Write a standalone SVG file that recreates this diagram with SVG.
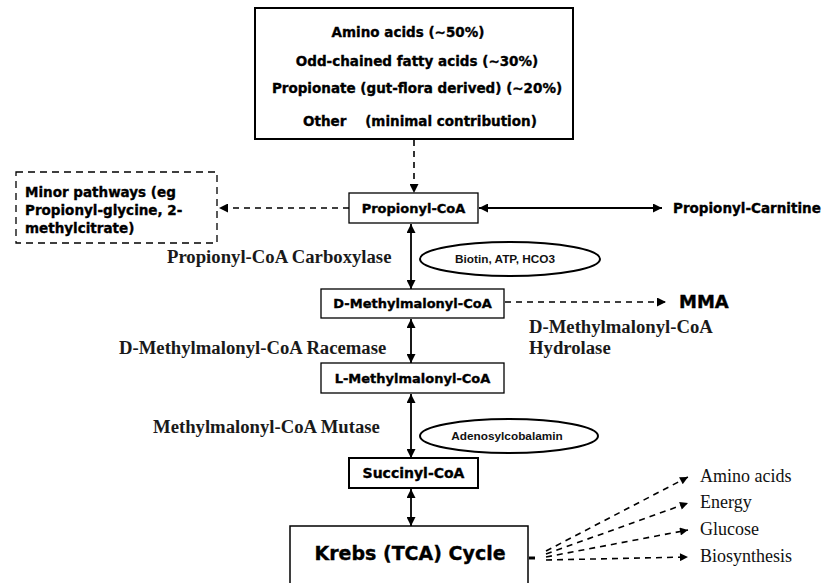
<svg xmlns="http://www.w3.org/2000/svg" width="824" height="583" viewBox="0 0 824 583">
<defs>
<marker id="ah" viewBox="0 0 10 10" refX="10" refY="5" markerWidth="10" markerHeight="9" markerUnits="userSpaceOnUse" orient="auto-start-reverse"><path d="M0,0 L10,5 L0,10 z" fill="#000"/></marker>
<marker id="ahs" viewBox="0 0 10 10" refX="10" refY="5" markerWidth="9" markerHeight="8" markerUnits="userSpaceOnUse" orient="auto"><path d="M0,0 L10,5 L0,10 z" fill="#000"/></marker>
</defs>
<style>
.box{fill:#fff;stroke:#000;stroke-width:1.3}
.lbl{font-family:"DejaVu Sans",sans-serif;font-weight:bold;font-size:13px;fill:#000;stroke:#000;stroke-width:0.35}
.top{font-size:13.5px}
.ser{font-family:"Liberation Serif","Times New Roman",serif;font-weight:bold;font-size:18.7px;fill:#1a1a1a}
.serr{font-family:"Liberation Serif","Times New Roman",serif;font-size:18px;fill:#111}
.small{font-family:"Liberation Sans",Arial,sans-serif;font-weight:bold;font-size:11.8px;fill:#111}
.sol{stroke:#000;stroke-width:1.8;fill:none}
.dsh{stroke:#000;stroke-width:1.6;fill:none;stroke-dasharray:6 5}
.ell{fill:#fff;stroke:#000;stroke-width:2}
</style>
<rect width="824" height="583" fill="#fff"/>

<g id="connectors">
<line class="dsh" x1="414" y1="140" x2="414" y2="193" marker-end="url(#ah)"/>
<line class="dsh" x1="349" y1="208" x2="219" y2="208" marker-end="url(#ah)"/>
<line class="sol" x1="479" y1="208" x2="662" y2="208" marker-start="url(#ah)" marker-end="url(#ah)"/>
<line class="sol" x1="411" y1="224" x2="411" y2="289" marker-start="url(#ah)" marker-end="url(#ah)"/>
<line class="dsh" x1="505" y1="302" x2="666" y2="302" marker-end="url(#ah)"/>
<line class="sol" x1="411" y1="319" x2="411" y2="363" marker-start="url(#ah)" marker-end="url(#ah)"/>
<line class="sol" x1="411" y1="394" x2="411" y2="458" marker-start="url(#ah)" marker-end="url(#ah)"/>
<line class="sol" x1="411" y1="489" x2="411" y2="526" marker-start="url(#ah)" marker-end="url(#ah)"/>
<line x1="529" y1="558" x2="535" y2="558" stroke="#000" stroke-width="3"/>
<line class="dsh" x1="546" y1="551" x2="688" y2="477" marker-end="url(#ahs)"/>
<line class="dsh" x1="546" y1="554" x2="688" y2="503" marker-end="url(#ahs)"/>
<line class="dsh" x1="546" y1="557" x2="688" y2="530" marker-end="url(#ahs)"/>
<line class="dsh" x1="546" y1="560" x2="688" y2="557" marker-end="url(#ahs)"/>
</g>

<g id="sources">
<rect x="255" y="8" width="318" height="131" fill="#fff" stroke="#000" stroke-width="2"/>
<text class="lbl top" x="408" y="37" text-anchor="middle">Amino acids (~50%)</text>
<text class="lbl top" x="417" y="66" text-anchor="middle">Odd-chained fatty acids (~30%)</text>
<text class="lbl top" x="417" y="93" text-anchor="middle">Propionate (gut-flora derived) (~20%)</text>
<text class="lbl top" x="303" y="126" xml:space="preserve">Other    (minimal contribution)</text>
</g>

<g id="minor">
<rect x="16" y="172" width="201" height="71" fill="#fff" stroke="#000" stroke-width="1.3" stroke-dasharray="7 5"/>
<text class="lbl top" x="25" y="197">Minor pathways (eg</text>
<text class="lbl top" x="25" y="215">Propionyl-glycine, 2-</text>
<text class="lbl top" x="25" y="233">methylcitrate)</text>
</g>

<g id="propionylcoa">
<rect class="box" x="349" y="193" width="129" height="30"/>
<text class="lbl" x="413.5" y="213" text-anchor="middle">Propionyl-CoA</text>
</g>

<g id="carnitine">
<text class="lbl" x="673" y="213" style="font-size:13.5px">Propionyl-Carnitine</text>
</g>

<g id="carboxylase">
<text class="ser" x="167" y="263">Propionyl-CoA Carboxylase</text>
</g>

<g id="biotin">
<ellipse class="ell" cx="510" cy="259" rx="90" ry="17"/>
<text class="small" x="505" y="263" text-anchor="middle">Biotin, ATP, HCO3</text>
</g>

<g id="dmmcoa">
<rect class="box" x="321" y="289" width="183" height="29"/>
<text class="lbl" x="412.5" y="308" text-anchor="middle">D-Methylmalonyl-CoA</text>
</g>

<g id="mma">
<text x="679" y="308" style="font-family:'DejaVu Sans',sans-serif;font-weight:bold;font-size:18px;stroke:#000;stroke-width:0.4">MMA</text>
</g>

<g id="hydrolase">
<text class="ser" x="529" y="333">D-Methylmalonyl-CoA</text>
<text class="ser" x="529" y="354">Hydrolase</text>
</g>

<g id="racemase">
<text class="ser" x="119" y="354">D-Methylmalonyl-CoA Racemase</text>
</g>

<g id="lmmcoa">
<rect class="box" x="321" y="363" width="183" height="30"/>
<text class="lbl" x="412.5" y="383" text-anchor="middle">L-Methylmalonyl-CoA</text>
</g>

<g id="mutase">
<text class="ser" x="153" y="433">Methylmalonyl-CoA Mutase</text>
</g>

<g id="adenosylcobalamin">
<ellipse class="ell" cx="509" cy="436" rx="89" ry="17"/>
<text class="small" x="507" y="440" text-anchor="middle">Adenosylcobalamin</text>
</g>

<g id="succinylcoa">
<rect x="349" y="458" width="129" height="30" fill="#fff" stroke="#000" stroke-width="2"/>
<text class="lbl" x="413.5" y="478" text-anchor="middle" style="font-size:14px">Succinyl-CoA</text>
</g>

<g id="krebs">
<rect x="290" y="526" width="238" height="80" fill="#fff" stroke="#000" stroke-width="1.5"/>
<text class="lbl" x="410" y="560" text-anchor="middle" style="font-size:19px">Krebs (TCA) Cycle</text>
</g>

<g id="outputs">
<text class="serr" x="700" y="482">Amino acids</text>
<text class="serr" x="700" y="508">Energy</text>
<text class="serr" x="700" y="535">Glucose</text>
<text class="serr" x="700" y="562">Biosynthesis</text>
</g>
</svg>
